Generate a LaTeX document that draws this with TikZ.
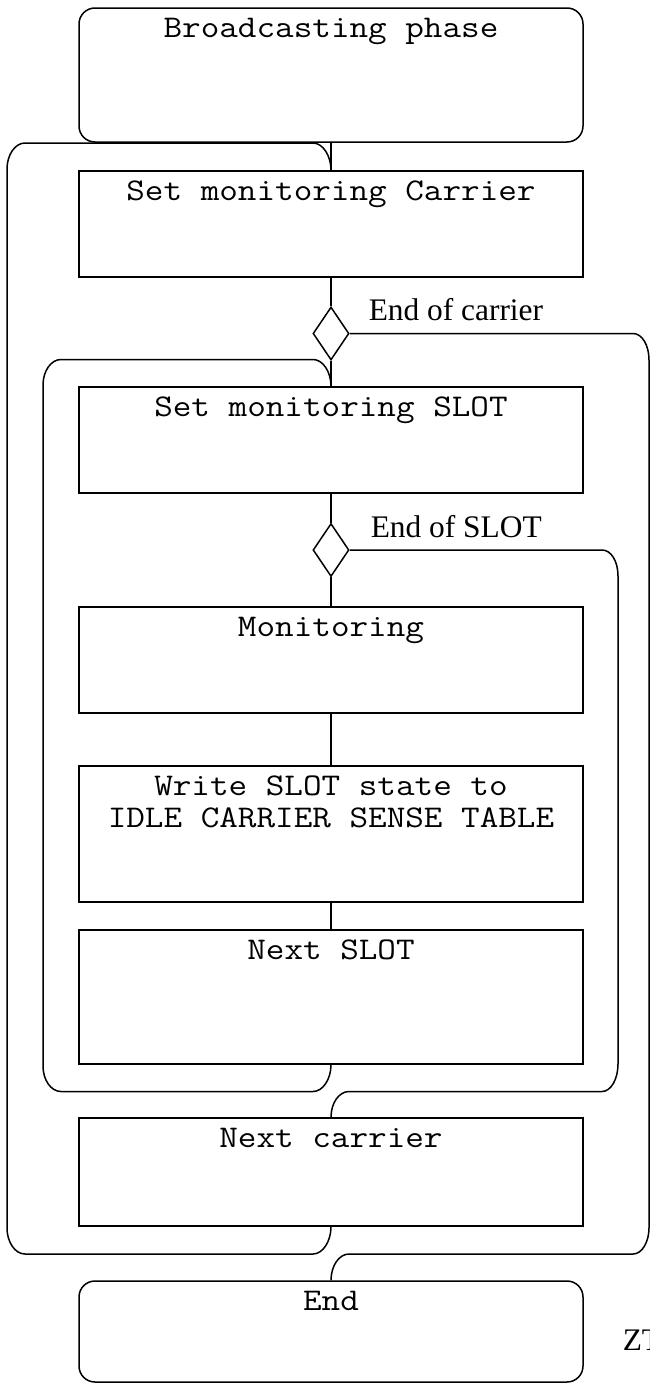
\documentclass[tikz,border=0pt]{standalone}
\usepackage{fontspec}
\newfontfamily\cour[FakeStretch=1.143]{Latin Modern Mono}
\newfontfamily\tnr{Liberation Serif}
\usetikzlibrary{shapes.geometric,calc}
\begin{document}
\begin{tikzpicture}[x=1pt,y=-1pt,line width=1.5pt,
  box/.style={draw, rectangle, minimum width=504pt, inner sep=0pt},
  rbox/.style={box, rounded corners=16pt},
  dia/.style={draw, diamond, minimum width=36pt, minimum height=53pt, inner sep=0pt},
  btxt/.style={font=\cour\fontsize{31.6}{32.5}\selectfont, anchor=base, inner sep=0pt},
  lbl/.style={font=\tnr\fontsize{31.4}{33}\selectfont, anchor=base west, inner sep=0pt}
]
\useasboundingbox (0,0) rectangle (650,1384);

% boxes
\node[rbox, minimum height=134pt] (b)  at (331,75) {};
\node[box,  minimum height=106pt] (c1) at (331,224) {};
\node[dia] (d1) at (331,333.5) {};
\node[box,  minimum height=106pt] (c2) at (331,440) {};
\node[dia] (d2) at (331,550) {};
\node[box,  minimum height=106pt] (m)  at (331,660) {};
\node[box,  minimum height=136pt] (w)  at (331,834) {};
\node[box,  minimum height=134pt] (ns) at (331,997) {};
\node[box,  minimum height=108pt] (nc) at (331,1172) {};
\node[rbox, minimum height=101pt] (e)  at (331,1331.5) {};

% box texts
\node[btxt] (tb)  at ($(b.north)+(0,30)$)  {Broadcasting phase};
\node[btxt] (tc1) at ($(c1.north)+(0,30)$) {Set monitoring Carrier};
\node[btxt] (tc2) at ($(c2.north)+(0,30)$) {Set monitoring SLOT};
\node[btxt] (tm)  at ($(m.north)+(0,30)$)  {Monitoring};
\node[btxt] (tw1) at ($(w.north)+(0,30)$)  {Write SLOT state to};
\node[btxt] (tw2) at ($(w.north)+(0,62)$)  {IDLE CARRIER SENSE TABLE};
\node[btxt] (tns) at ($(ns.north)+(0,30)$) {Next SLOT};
\node[btxt] (tnc) at ($(nc.north)+(0,30)$) {Next carrier};
\node[btxt] (te)  at ($(e.north)+(0,30)$)  {End};

% labels
\node[lbl] (l1) at (368,320) {End of carrier};
\node[lbl] (l2) at (370,537) {End of SLOT};
\node[lbl] (zt) at (622,1350) {ZT};

% straight connectors
\draw (b.south) -- (c1.north);
\draw (c1.south) -- (d1.north);
\draw (d1.south) -- (c2.north);
\draw (c2.south) -- (d2.north);
\draw (d2.south) -- (m.north);
\draw (m.south) -- (w.north);
\draw (w.south) -- (ns.north);

% carrier loop (left, outer)
\draw (nc.south) .. controls (331,1241) and (323,1254) .. (313,1254)
  -- (25,1254) .. controls (15,1254) and (7,1242) .. (7,1228)
  -- (7,169) .. controls (7,155) and (15,143) .. (25,143)
  -- (313,143) .. controls (323,143) and (331,156) .. (c1.north);

% slot loop (left, inner)
\draw (ns.south) .. controls (331,1079) and (323,1091.5) .. (313,1091.5)
  -- (61,1091.5) .. controls (51,1091.5) and (43,1080) .. (43,1066)
  -- (43,385) .. controls (43,371) and (51,359.5) .. (61,359.5)
  -- (313,359.5) .. controls (323,359.5) and (331,372) .. (c2.north);

% end of carrier exit (right, outer)
\draw (d1.east) -- (633,333.5) .. controls (642,333.5) and (649,345) .. (649,360)
  -- (649,1228) .. controls (649,1242) and (642,1254) .. (633,1254)
  -- (349,1254) .. controls (339,1254) and (331,1266) .. (e.north);

% end of slot exit (right, inner)
\draw (d2.east) -- (602,550) .. controls (611,550) and (618,561) .. (618,576)
  -- (618,1064) .. controls (618,1079) and (611,1091.5) .. (602,1091.5)
  -- (349,1091.5) .. controls (339,1091.5) and (331,1103) .. (nc.north);
\end{tikzpicture}
\end{document}
